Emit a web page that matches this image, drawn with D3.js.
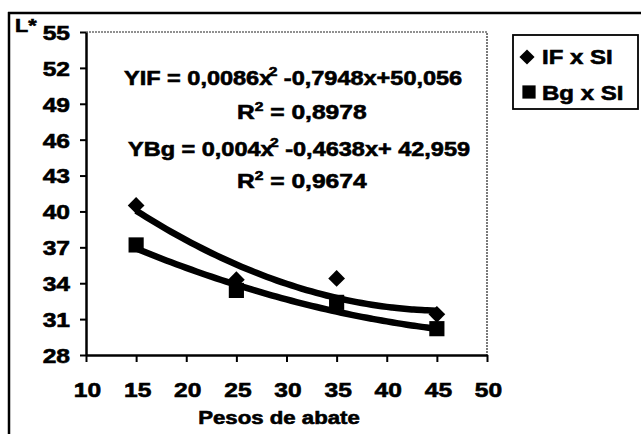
<!DOCTYPE html>
<html>
<head>
<meta http-equiv="Content-type" content="text/html; charset=utf-8">
<title>L* x Pesos de abate</title>
<script src="https://d3js.org/d3.v7.min.js"></script>
<style>
  body { margin: 0; background: #fff; }
  svg { display: block; font-family: "Liberation Sans", Arial, sans-serif; font-weight: bold; }
  svg text { stroke: #000; stroke-width: 0.6px; }
</style>
</head>
<body>
<svg id="chart" width="641" height="434"></svg>
<script type="text/javascript">

  // DATA
  var weights = [15, 25, 35, 45];
  var ifValues = [40.5, 34.3, 34.4, 31.4];
  var bgValues = [37.2, 33.4, 32.4, 30.2];

  // trendline coefficients as printed on the chart (a x^2 + b x + c)
  var ifCoef = [0.0086, -0.7948, 50.056];
  var bgCoef = [0.004, -0.4638, 42.959];

  var xTicks = [10, 15, 20, 25, 30, 35, 40, 45, 50];
  var yTicks = [28, 31, 34, 37, 40, 43, 46, 49, 52, 55];

  var legendLabels = ["IF x SI", "Bg x SI"];

  var stretch = 1.2; // the scan is wider than it is tall

  var svg = d3.select("#chart");

  var x = d3.scaleLinear().domain([10, 50]).range([86, 487]);
  var y = d3.scaleLinear().domain([28, 55]).range([355, 32]);

  // outer frame
  svg.append("line").attr("x1", 8).attr("y1", 13).attr("x2", 641).attr("y2", 13)
    .attr("stroke", "#000").attr("stroke-width", 2.5);
  svg.append("line").attr("x1", 9).attr("y1", 12).attr("x2", 9).attr("y2", 434)
    .attr("stroke", "#000").attr("stroke-width", 2.5);

  // dotted top and right edge of the plot area
  svg.append("path")
    .attr("d", "M" + x(10) + "," + y(55) + "H" + x(50) + "V" + y(28))
    .attr("fill", "none").attr("stroke", "#222").attr("stroke-width", 1.2)
    .attr("stroke-dasharray", "2,1");

  // AXES
  var yAxis = svg.append("g")
    .attr("transform", "translate(" + x(10) + ",0)")
    .call(d3.axisLeft(y).tickValues(yTicks).tickSize(6).tickSizeOuter(0));

  var xAxis = svg.append("g")
    .attr("transform", "translate(0," + y(28) + ")")
    .call(d3.axisBottom(x).tickValues(xTicks).tickSize(7).tickSizeOuter(0));

  [xAxis, yAxis].forEach(function (ax) {
    ax.select(".domain").attr("stroke", "#000").attr("stroke-width", 2.5);
    ax.selectAll(".tick line").attr("stroke", "#000").attr("stroke-width", 2);
    ax.selectAll(".tick text")
      .attr("fill", "#000").attr("font-size", 20.5).attr("font-family", null);
  });

  yAxis.selectAll(".tick text")
    .attr("x", null).attr("dy", "0.36em")
    .attr("transform", "translate(-16,0) scale(" + stretch + ",1)");

  xAxis.selectAll(".tick text")
    .attr("y", null).attr("dy", null)
    .attr("transform", "translate(1,42) scale(" + stretch + ",1)");

  // TRENDLINES
  function poly(c) {
    return function (v) { return c[0] * v * v + c[1] * v + c[2]; };
  }

  var line = d3.line()
    .x(function (d) { return x(d[0]); })
    .y(function (d) { return y(d[1]); })
    .curve(d3.curveBasis);

  [ifCoef, bgCoef].forEach(function (c) {
    var f = poly(c);
    var pts = d3.range(15, 45.01, 0.5).map(function (v) { return [v, f(v)]; });
    svg.append("path")
      .attr("d", line(pts))
      .attr("fill", "none").attr("stroke", "#000").attr("stroke-width", 6.5);
  });

  // MARKERS
  var diamond = d3.symbol().type(d3.symbolSquare).size(140);
  var square = d3.symbol().type(d3.symbolSquare).size(230);

  svg.selectAll(".ifpt")
    .data(weights)
    .enter().append("path")
    .attr("class", "ifpt")
    .attr("d", diamond)
    .attr("transform", function (d, i) { return "translate(" + x(d) + "," + y(ifValues[i]) + ") rotate(45)"; })
    .attr("fill", "#000");

  svg.selectAll(".bgpt")
    .data(weights)
    .enter().append("path")
    .attr("class", "bgpt")
    .attr("d", square)
    .attr("transform", function (d, i) { return "translate(" + x(d) + "," + y(bgValues[i]) + ")"; })
    .attr("fill", "#000");

  // TEXT HELPERS
  function stretched(px, py, size) {
    return svg.append("text")
      .attr("transform", "translate(" + px + "," + py + ") scale(" + stretch + ",1)")
      .attr("font-size", size)
      .attr("fill", "#000");
  }

  function equation(px, py, head, sq, tail) {
    var t = stretched(px, py, 19.6);
    t.append("tspan").text(head);
    t.append("tspan").attr("dx", -3).attr("dy", -9).attr("font-size", 13).text(sq);
    t.append("tspan").attr("dy", 9).text(tail);
  }

  function rsq(px, py, val) {
    var t = stretched(px, py, 20.5);
    t.append("tspan").text("R");
    t.append("tspan").attr("dy", -8).attr("font-size", 13).text("2");
    t.append("tspan").attr("dy", 8).text(" = " + val);
  }

  equation(124, 85, "YIF = 0,0086x", "2", " -0,7948x+50,056");
  rsq(237, 119, "0,8978");
  equation(128, 156, "YBg = 0,004x", "2", " -0,4638x+ 42,959");
  rsq(237, 188, "0,9674");

  // axis titles
  stretched(15, 32, 18).text("L*");
  stretched(279, 424, 18.5).attr("text-anchor", "middle").text("Pesos de abate");

  // LEGEND
  svg.append("rect")
    .attr("x", 513).attr("y", 35).attr("width", 125).attr("height", 74)
    .attr("fill", "none").attr("stroke", "#000").attr("stroke-width", 1.8);

  svg.append("path").attr("d", d3.symbol().type(d3.symbolSquare).size(115))
    .attr("transform", "translate(527,57) rotate(45)").attr("fill", "#000");
  svg.append("path").attr("d", d3.symbol().type(d3.symbolSquare).size(175))
    .attr("transform", "translate(529,92)").attr("fill", "#000");

  stretched(542, 64, 20).text(legendLabels[0]);
  stretched(542, 100, 20).text(legendLabels[1]);

</script>
</body>
</html>
